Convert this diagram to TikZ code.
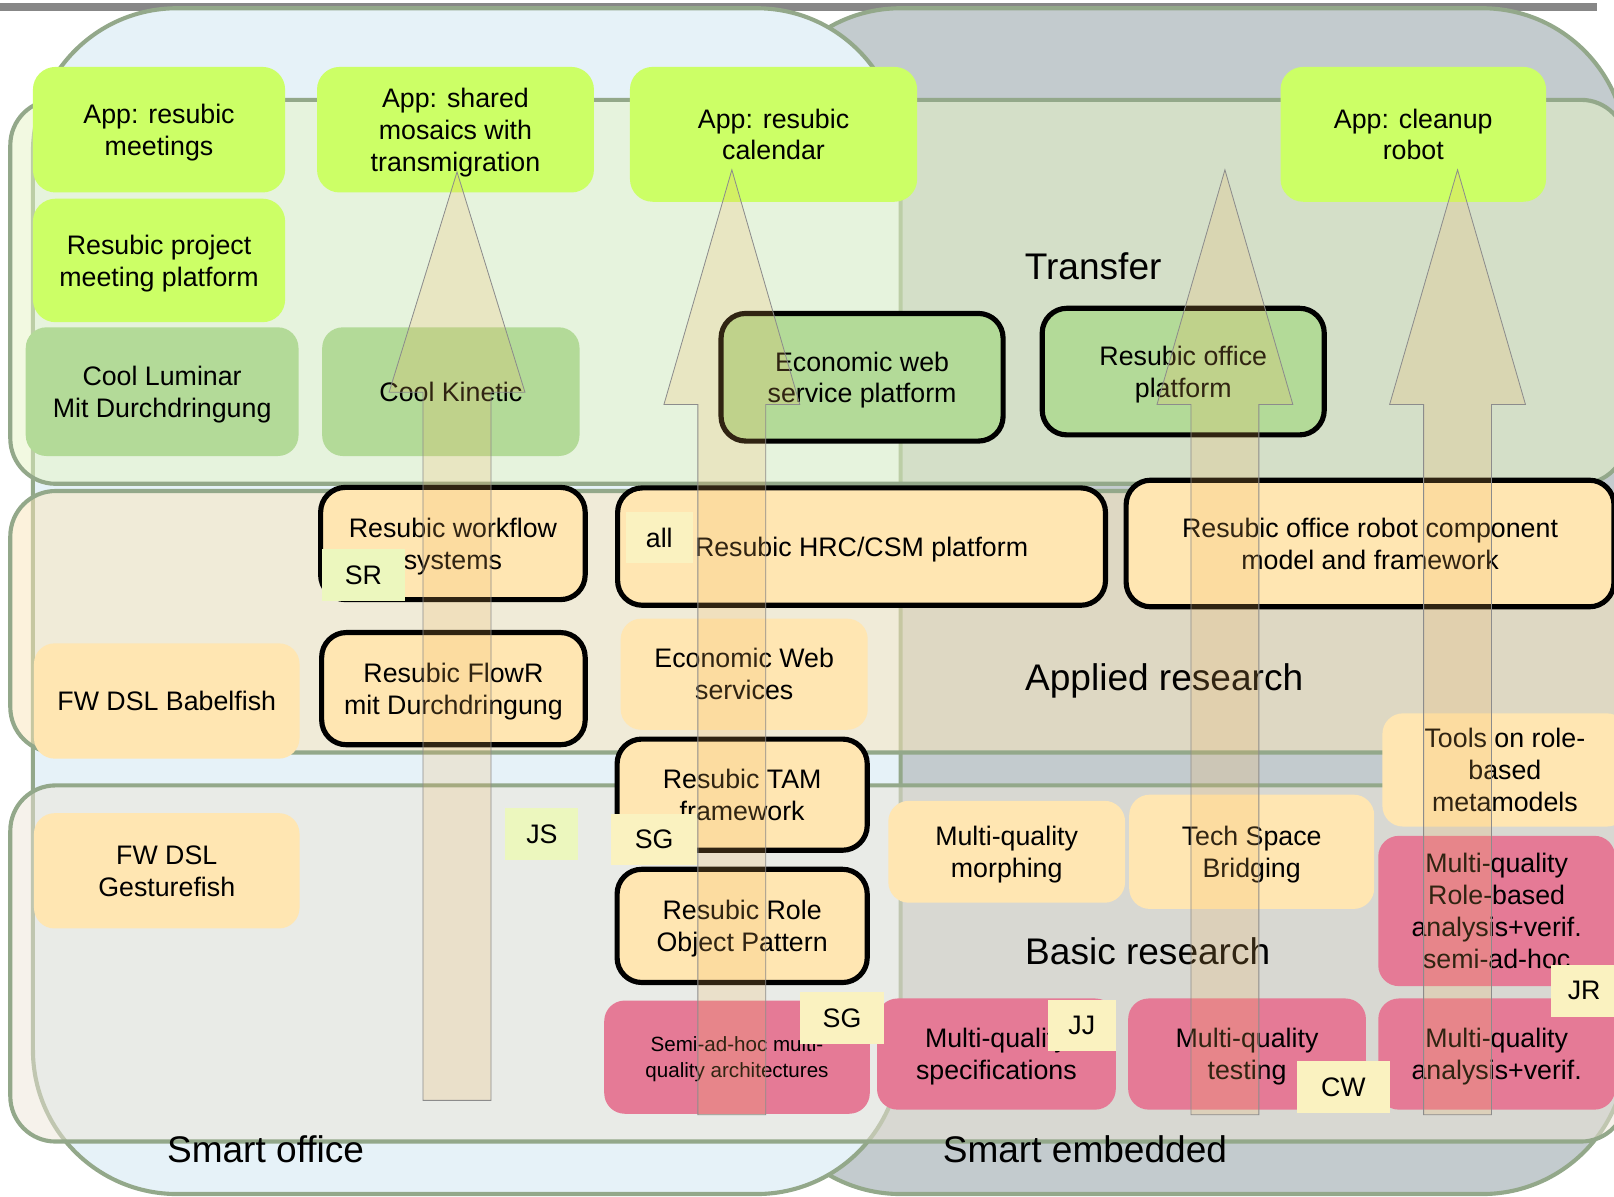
\documentclass[tikz,border=0pt]{standalone}
\usepackage{fontspec}
\setmainfont{Liberation Sans}
\definecolor{SOblue}{HTML}{E6F2F8}
\definecolor{SEgray}{HTML}{C3CBCE}
\definecolor{RIM}{HTML}{93A88A}
\definecolor{LIME}{HTML}{CCFF66}
\definecolor{LEAF}{HTML}{B3DA98}
\definecolor{PEACH}{HTML}{FFE6B2}
\definecolor{ROSE}{HTML}{E57A96}
\definecolor{TAGG}{HTML}{ECF7BE}
\definecolor{TAGY}{HTML}{FAF2C0}
\definecolor{BTRF}{RGB}{230,244,195}
\definecolor{BAPP}{RGB}{250,230,185}
\definecolor{BBAS}{RGB}{237,229,215}
\definecolor{ARRW}{RGB}{240,180,90}

\begin{document}
\begin{tikzpicture}[x=0.5pt, y=-0.5pt,
    txt/.style={font=\fontsize{13}{15.5}\selectfont, align=center, inner sep=0pt,
      text depth=0pt},
    sz/.style 2 args={minimum width=#1*0.5pt, minimum height=#2*0.5pt},
    app/.style={txt, fill=LIME, rounded corners=11pt},
    leaf/.style={txt, fill=LEAF, rounded corners=10pt},
    peach/.style={txt, fill=PEACH, rounded corners=10pt},
    rose/.style={txt, fill=ROSE, rounded corners=10pt},
    core/.style={draw=black, line width=2.5pt, rounded corners=12pt},
    tag/.style={txt, fill=TAGY},
    area/.style={draw=RIM, line width=2pt, rounded corners=70pt},
    band/.style={draw=RIM, line width=2pt, fill opacity=.5, rounded corners=22pt},
    title/.style={font=\fontsize{18}{21}\selectfont, inner sep=0pt, anchor=base},
    uparrow/.style={fill=ARRW, fill opacity=.2, draw=black!45, line width=.4pt}]

    \useasboundingbox (0,0) rectangle (1568,1162);

    %% ── backdrop: two domains + three bands ─────────────
    \fill[black!47] (0,3) rectangle (1551,11);
    \draw[area, fill=SEgray] (735,8) rectangle (1580,1160);
    \draw[area, fill=SOblue] (32,8) rectangle (875,1160);
    \draw[band, fill=BTRF] (10,97) rectangle (1580,470);
    \draw[band, fill=BAPP] (10,477) rectangle (1580,731);
    \draw[band, fill=BBAS] (10,763) rectangle (1580,1109);

    \node[title] (ttransfer) at (1062,272) {Transfer};
    \node[title] (tapplied) at (1131,671) {Applied research};
    \node[title] (tbasic) at (1115,937) {Basic research};
    \node[title] (toffice) at (258,1129) {Smart office};
    \node[title] (tembedded) at (1054,1129) {Smart embedded};

    %% ── transfer ────────────────────────────────────────
    \node[app, sz={245}{122}] (appmeet) at (154.5,126) {App: resubic\\meetings};
    \node[app, sz={269}{122}] (appmosaic) at (442.5,126)
      {App: shared\\mosaics with\\transmigration};
    \node[app, sz={279}{131}] (appcal) at (751.5,130.5) {App: resubic\\calendar};
    \node[app, sz={258}{131}] (approbot) at (1373,130.5) {App: cleanup\\robot};
    \node[app, sz={245}{120}] (meetplat) at (154.5,253)
      {Resubic project\\meeting platform};
    \node[leaf, sz={265}{125}] (luminar) at (157.5,380.5)
      {Cool Luminar\\Mit Durchdringung};
    \node[leaf, sz={250}{125}] (kinetic) at (438,380.5) {Cool Kinetic};
    \node[leaf, core, sz={274}{124}] (ecoplat) at (837.5,366.5)
      {Economic web\\service platform};
    \node[leaf, core, sz={274}{123}] (officeplat) at (1149.5,361)
      {Resubic office\\platform};

    %% ── applied research ────────────────────────────────
    \node[peach, core, sz={257}{109}] (workflow) at (440,528)
      {Resubic workflow\\systems};
    \node[peach, core, sz={474}{114}] (hrc) at (837,531) {Resubic HRC/CSM platform};
    \node[peach, core, sz={474}{123}] (robotfw) at (1331,528)
      {Resubic office robot component\\model and framework};
    \node[peach, core, sz={256}{109}] (flowr) at (440.5,669)
      {Resubic FlowR\\mit Durchdringung};
    \node[peach, sz={258}{112}] (babelfish) at (162,681) {FW DSL Babelfish};
    \node[peach, sz={240}{108}] (ecoweb) at (723,655) {Economic Web\\services};
    \node[peach, sz={238}{110}] (tools) at (1462,748) {Tools on role-\\based\\metamodels};

    %% ── basic research ──────────────────────────────────
    \node[peach, core, sz={243}{108}] (tam) at (721,772) {Resubic TAM\\framework};
    \node[peach, core, sz={243}{110}] (rop) at (721,899.5) {Resubic Role\\Object Pattern};
    \node[peach, sz={258}{112}] (gesture) at (162,846) {FW DSL\\Gesturefish};
    \node[peach, sz={230}{99}] (morph) at (978,827.5) {Multi-quality\\morphing};
    \node[peach, sz={238}{111}] (bridge) at (1216,827.5) {Tech Space\\Bridging};
    \node[rose, sz={258}{110}, font=\fontsize{10}{12.5}\selectfont] (semiadhoc)
      at (716,1027) {Semi-ad-hoc multi-\\quality architectures};
    \node[rose, sz={232}{108}] (mqspec) at (968,1024) {Multi-quality\\specifications};
    \node[rose, sz={231}{108}] (mqtest) at (1211.5,1024) {Multi-quality\\testing};
    \node[rose, sz={230}{108}] (mqana) at (1454,1024) {Multi-quality\\analysis+verif.};
    \node[rose, sz={230}{146}] (mqrole) at (1454,885)
      {Multi-quality\\Role-based\\analysis+verif.\\semi-ad-hoc};

    %% ── owner tags ──────────────────────────────────────
    \node[tag, fill=TAGG, sz={80}{51}] (tSR) at (353,558.5) {SR};
    \node[tag, sz={65}{50}] (tall) at (640.5,522) {all};
    \node[tag, fill=TAGG, sz={71}{50}] (tJS) at (526.5,810) {JS};
    \node[tag, sz={83}{49}] (tSGa) at (635.5,815.5) {SG};
    \node[tag, sz={82}{50}] (tSGb) at (818,989) {SG};
    \node[tag, sz={66}{50}] (tJJ) at (1051,996) {JJ};
    \node[tag, sz={90}{50}] (tCW) at (1305,1056) {CW};
    \node[tag, sz={64}{51}] (tJR) at (1539,962.5) {JR};

    %% ── big upward arrows (see-through) ─────────────────
    \foreach \cx/\yb/\yh/\yt in {444/1069/381/167, 711/1083/393/165,
                                 1190/1083/393/165, 1416/1083/393/165}{
      \draw[uparrow] (\cx-33,\yb) -- (\cx-33,\yh) -- (\cx-66,\yh) -- (\cx,\yt)
        -- (\cx+66,\yh) -- (\cx+33,\yh) -- (\cx+33,\yb) -- cycle;
    }

\end{tikzpicture}
\end{document}
